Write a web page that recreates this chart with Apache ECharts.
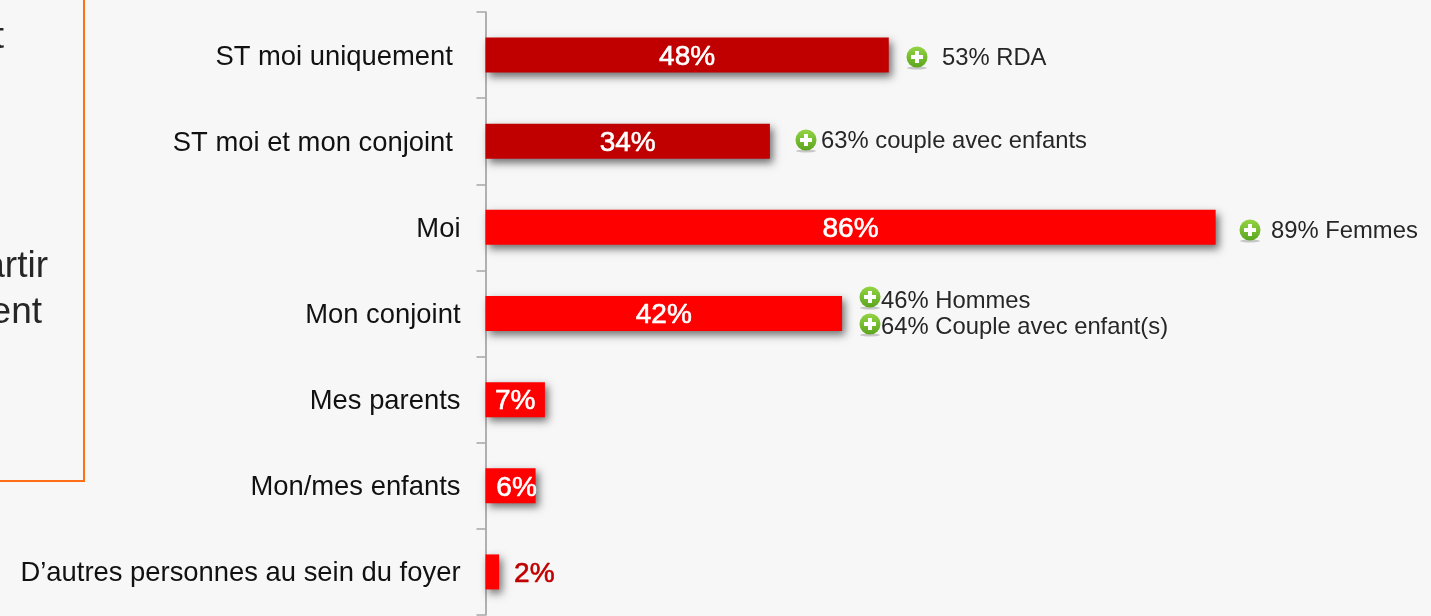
<!DOCTYPE html>
<html lang="fr">
<head>
  <meta charset="UTF-8">
  <title>foyer_demo</title>
  <script src="https://cdn.jsdelivr.net/npm/echarts@6/dist/echarts.min.js"></script>
  <style>
    *{
      margin:0;
      padding:0;
    }
    html,body{
      background:#f7f7f7;
      overflow:hidden;
    }
    .container{
      width:1431px;
      height:616px;
    }
  </style>
</head>
<body>
  <div class="container"></div>

  <script type="text/javascript">
    // le libellé des deux premières lignes garde son espace final, comme sur l'original
    var categories = ['ST moi uniquement ', 'ST moi et mon conjoint ', 'Moi', 'Mon conjoint', 'Mes parents', 'Mon/mes enfants', 'D’autres personnes au sein du foyer']
    var values = [47.5, 33.5, 86, 42, 7, 5.9, 1.6]
    var darkCategories = ['ST moi uniquement ', 'ST moi et mon conjoint ']
    var notes = ['53% RDA', '63% couple avec enfants', '89% Femmes', '46% Hommes', '64% Couple avec enfant(s)']
    var panelFragments = ['t', 'artir', 'ent']

    const FONT = '"Liberation Sans", Arial, sans-serif'
    const mCharts = echarts.init(document.querySelector('.container'), null, { renderer: 'canvas' })

    // emplacement des annotations : [centre icône x, centre icône y, début texte x, milieu texte y]
    const noteSpots = [[917, 57, 942, 58], [806, 140, 821, 141], [1250, 230, 1271, 231], [870, 297, 881, 301], [870, 324, 881, 327]]
    const fragmentSpots = [[4, 38], [48, 267], [42, 313]]

    function noteGraphic(text, spot) {
      return {
        type: 'group',
        children: [
          { type: 'ellipse', shape: { cx: spot[0], cy: spot[1] + 11, rx: 10, ry: 1.5 }, style: { fill: 'rgba(90,90,90,0.3)' } },
          {
            type: 'circle',
            shape: { cx: spot[0], cy: spot[1], r: 10.5 },
            style: { fill: new echarts.graphic.LinearGradient(0, 0, 0, 1, [
              { offset: 0, color: '#93d444' },
              { offset: 1, color: '#5ba51f' }
            ]) }
          },
          { type: 'rect', shape: { x: spot[0] - 6, y: spot[1] - 2, width: 12, height: 4 }, style: { fill: '#fff' } },
          { type: 'rect', shape: { x: spot[0] - 2, y: spot[1] - 6, width: 4, height: 12 }, style: { fill: '#fff' } },
          {
            type: 'text',
            style: { x: spot[2], y: spot[3], text: text, font: '23.8px ' + FONT, fill: '#262626', textVerticalAlign: 'middle' }
          }
        ]
      }
    }

    var graphics = [
      {
        type: 'rect',
        shape: { x: -10, y: -10, width: 94, height: 491 },
        style: { fill: 'none', stroke: '#ff6f17', lineWidth: 2 }
      }
    ]
    panelFragments.forEach(function (t, i) {
      graphics.push({
        type: 'text',
        style: {
          x: fragmentSpots[i][0], y: fragmentSpots[i][1], text: t,
          font: '37px ' + FONT, fill: '#262626', textAlign: 'right', textVerticalAlign: 'middle'
        }
      })
    })
    notes.forEach(function (t, i) {
      graphics.push(noteGraphic(t, noteSpots[i]))
    })

    var option = {
      animation: false,
      backgroundColor: '#f7f7f7',
      grid: { left: 485.5, top: 12, width: 849, height: 603, containLabel: false },
      xAxis: { type: 'value', min: 0, max: 100, show: false },
      yAxis: {
        type: 'category',
        inverse: true,
        data: categories,
        axisLine: { show: true, lineStyle: { color: '#999', width: 1.5 } },
        axisTick: { show: true, length: 9, lineStyle: { color: '#a6a6a6', width: 1.5 } },
        axisLabel: {
          margin: 25,
          formatter: '{a|{value}}',
          rich: { a: { color: '#111', fontSize: 27.4, fontFamily: FONT, padding: [4, 0, 0, 0] } }
        }
      },
      series: [
        {
          type: 'bar',
          barWidth: 35,
          data: values.map(function (v, i) {
            var item = {
              value: v,
              itemStyle: { color: darkCategories.indexOf(categories[i]) >= 0 ? '#c00000' : '#ff0000' }
            }
            // les petites barres ont leur étiquette décalée
            if (v < 2) {
              item.label = { position: 'right', distance: 15, color: '#c00000', textBorderColor: '#c00000' }
            } else if (v < 6) {
              item.label = { offset: [6, 2] }
            }
            return item
          }),
          itemStyle: {
            shadowColor: 'rgba(0,0,0,0.55)',
            shadowBlur: 8,
            shadowOffsetX: 3,
            shadowOffsetY: 4
          },
          label: {
            show: true,
            position: 'inside',
            offset: [0, 2],
            color: '#fff',
            fontSize: 28,
            fontFamily: FONT,
            textBorderColor: '#fff',
            textBorderWidth: 0.6,
            formatter: function (p) { return Math.round(p.value) + '%' }
          }
        }
      ],
      graphic: graphics
    }
    mCharts.setOption(option)
  </script>
</body>
</html>
